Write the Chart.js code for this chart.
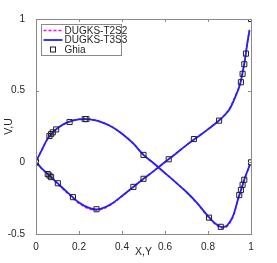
<!DOCTYPE html>
<html>
<head>
<meta charset="utf-8">
<script src="https://cdn.jsdelivr.net/npm/chart.js@4.4.1/dist/chart.umd.min.js"></script>
<style>
  html, body { margin: 0; padding: 0; background: #fff; }
</style>
</head>
<body>
<canvas id="cavity" width="277" height="263"></canvas>
<script>
// V along horizontal centerline (x) and U along vertical centerline (y)
const xLine = [0.005, 0.025, 0.05, 0.075, 0.1, 0.125, 0.15, 0.175, 0.2, 0.225, 0.25, 0.3, 0.35, 0.4, 0.45, 0.5, 0.55, 0.6, 0.65, 0.7, 0.75, 0.8, 0.825, 0.85, 0.865, 0.88, 0.9, 0.92, 0.94, 0.955, 0.97, 0.985, 0.995];
const vT3S3 = [0.02, 0.08, 0.155, 0.205, 0.238, 0.263, 0.28, 0.292, 0.299, 0.302, 0.299, 0.283, 0.25, 0.2, 0.135, 0.052, -0.01, -0.075, -0.14, -0.207, -0.285, -0.375, -0.415, -0.443, -0.452, -0.449, -0.42, -0.36, -0.255, -0.185, -0.115, -0.055, -0.015];
const vT2S2 = [0.02, 0.08, 0.153, 0.203, 0.237, 0.262, 0.28, 0.293, 0.301, 0.304, 0.301, 0.285, 0.251, 0.2, 0.135, 0.052, -0.01, -0.075, -0.14, -0.208, -0.288, -0.379, -0.42, -0.449, -0.459, -0.456, -0.427, -0.366, -0.26, -0.188, -0.117, -0.056, -0.015];

const yLine = [0.005, 0.025, 0.05, 0.075, 0.1, 0.15, 0.2, 0.25, 0.28, 0.3, 0.35, 0.4, 0.45, 0.5, 0.55, 0.6, 0.65, 0.7, 0.75, 0.8, 0.85, 0.875, 0.9, 0.925, 0.95, 0.97, 0.985, 0.993];
const uT3S3 = [-0.007, -0.04, -0.075, -0.11, -0.145, -0.215, -0.28, -0.32, -0.328, -0.325, -0.29, -0.235, -0.175, -0.115, -0.058, 0.002, 0.06, 0.12, 0.175, 0.23, 0.29, 0.325, 0.37, 0.45, 0.55, 0.70, 0.85, 0.92];
const uT2S2 = [-0.007, -0.041, -0.077, -0.113, -0.149, -0.221, -0.286, -0.326, -0.334, -0.33, -0.294, -0.237, -0.176, -0.115, -0.058, 0.002, 0.06, 0.12, 0.176, 0.232, 0.292, 0.328, 0.374, 0.455, 0.555, 0.705, 0.855, 0.925];

// Ghia et al. reference points
const ghiaX = [0, 0.0625, 0.0703, 0.0781, 0.0938, 0.1563, 0.2266, 0.2344, 0.5, 0.8047, 0.8594, 0.9453, 0.9531, 0.9609, 0.9688, 1];
const ghiaV = [0, 0.1836, 0.19713, 0.2092, 0.22965, 0.28124, 0.30203, 0.30174, 0.05186, -0.38598, -0.44993, -0.22847, -0.19254, -0.15663, -0.12146, 0];
const ghiaY = [0, 0.0547, 0.0625, 0.0703, 0.1016, 0.1719, 0.2813, 0.4531, 0.5, 0.6172, 0.7344, 0.8516, 0.9531, 0.9609, 0.9688, 0.9766, 1];
const ghiaU = [0, -0.08186, -0.09266, -0.10338, -0.14612, -0.24299, -0.32726, -0.17119, -0.11477, 0.02135, 0.16256, 0.29093, 0.55892, 0.61756, 0.68439, 0.75837, 1];

const xTicks = [0, 0.2, 0.4, 0.6, 0.8, 1];
const yTicks = [-0.5, 0, 0.5, 1];

const pts = (a, b) => a.map((v, i) => ({ x: v, y: b[i] }));
const FONT = 'Liberation Sans, Arial, sans-serif';

// box, inward ticks and the legend, drawn the matlab way
const boxPlugin = {
    id: 'boxPlugin',
    afterDraw(chart) {
        const ctx = chart.ctx;
        const a = chart.chartArea;
        const sx = chart.scales.x, sy = chart.scales.y;
        ctx.save();
        ctx.strokeStyle = '#8a8a8a';
        ctx.lineWidth = 1;
        ctx.strokeRect(Math.round(a.left) + 0.5, Math.round(a.top) + 0.5, Math.round(a.right - a.left), Math.round(a.bottom - a.top));
        ctx.beginPath();
        xTicks.forEach(t => {
            const px = Math.round(sx.getPixelForValue(t)) + 0.5;
            ctx.moveTo(px, a.bottom); ctx.lineTo(px, a.bottom - 3);
            ctx.moveTo(px, a.top); ctx.lineTo(px, a.top + 3);
        });
        yTicks.forEach(t => {
            const py = Math.round(sy.getPixelForValue(t)) + 0.5;
            ctx.moveTo(a.left, py); ctx.lineTo(a.left + 3, py);
            ctx.moveTo(a.right, py); ctx.lineTo(a.right - 3, py);
        });
        ctx.stroke();

        // legend
        const lx = a.left + 5.5, ly = a.top + 5.5, lw = 80, lh = 31;
        ctx.fillStyle = '#fff';
        ctx.fillRect(lx, ly, lw, lh);
        ctx.strokeStyle = '#8a8a8a';
        ctx.strokeRect(lx, ly, lw, lh);
        ctx.font = '10px ' + FONT;
        ctx.textBaseline = 'middle';
        const ds = chart.data.datasets;
        const rows = [ly + 6, ly + 15.5, ly + 25];
        ds.forEach((d, i) => {
            const y = rows[i];
            ctx.save();
            if (d.showLine === false) {
                ctx.strokeStyle = '#222';
                ctx.lineWidth = 1;
                ctx.strokeRect(lx + 9, y - 2.5, 5, 5);
            } else {
                ctx.strokeStyle = d.borderColor;
                ctx.lineWidth = d.borderWidth;
                ctx.setLineDash(d.borderDash || []);
                ctx.beginPath();
                ctx.moveTo(lx + 2, y); ctx.lineTo(lx + 21, y);
                ctx.stroke();
            }
            ctx.restore();
            ctx.fillStyle = '#262626';
            ctx.fillText(d.label, lx + 23, y + 0.5);
        });
        ctx.restore();
    }
};

const tickFont = { family: FONT, size: 10 };

new Chart(document.getElementById('cavity'), {
    type: 'line',
    data: {
        datasets: [
            {
                label: 'DUGKS-T2S2',
                data: pts(xLine, vT2S2).concat([{ x: null, y: null }], pts(yLine, uT2S2)),
                borderColor: '#ff00ff',
                borderWidth: 1.5,
                borderDash: [3, 2],
                pointRadius: 0,
                cubicInterpolationMode: 'monotone',
                spanGaps: false,
                order: 2
            },
            {
                label: 'DUGKS-T3S3',
                data: pts(xLine, vT3S3).concat([{ x: null, y: null }], pts(yLine, uT3S3)),
                borderColor: '#1f1fff',
                borderWidth: 1.8,
                pointRadius: 0,
                cubicInterpolationMode: 'monotone',
                spanGaps: false,
                order: 1
            },
            {
                label: 'Ghia',
                data: pts(ghiaX, ghiaV).concat(pts(ghiaY, ghiaU)),
                showLine: false,
                pointStyle: 'rect',
                pointRadius: 3.6,
                borderColor: '#222',
                backgroundColor: 'rgba(0,0,0,0)',
                pointBorderWidth: 1,
                order: 0
            }
        ]
    },
    options: {
        responsive: false,
        animation: false,
        devicePixelRatio: 1,
        layout: { padding: { left: 0, top: 19, right: 26, bottom: 0 } },
        plugins: { legend: { display: false }, tooltip: { enabled: false } },
        scales: {
            x: {
                type: 'linear',
                min: 0, max: 1,
                afterFit(s) { s.height = 29; },
                afterBuildTicks(s) { s.ticks = xTicks.map(v => ({ value: v })); },
                grid: { display: false },
                border: { display: false },
                ticks: { color: '#262626', font: tickFont, padding: -1, maxRotation: 0, callback: v => String(v) },
                title: { display: true, text: 'X,Y', color: '#262626', font: { family: FONT, size: 10.5 }, padding: { top: 0, bottom: 5 } }
            },
            y: {
                type: 'linear',
                min: -0.5, max: 1,
                afterFit(s) { s.width = 36; },
                afterBuildTicks(s) { s.ticks = yTicks.map(v => ({ value: v })); },
                grid: { display: false },
                border: { display: false },
                ticks: { color: '#262626', font: tickFont, padding: 3, callback: v => String(v) },
                title: { display: true, text: 'V,U', color: '#262626', font: { family: FONT, size: 10.5 }, padding: { top: 3, bottom: 0 } }
            }
        }
    },
    plugins: [boxPlugin]
});
</script>
</body>
</html>
